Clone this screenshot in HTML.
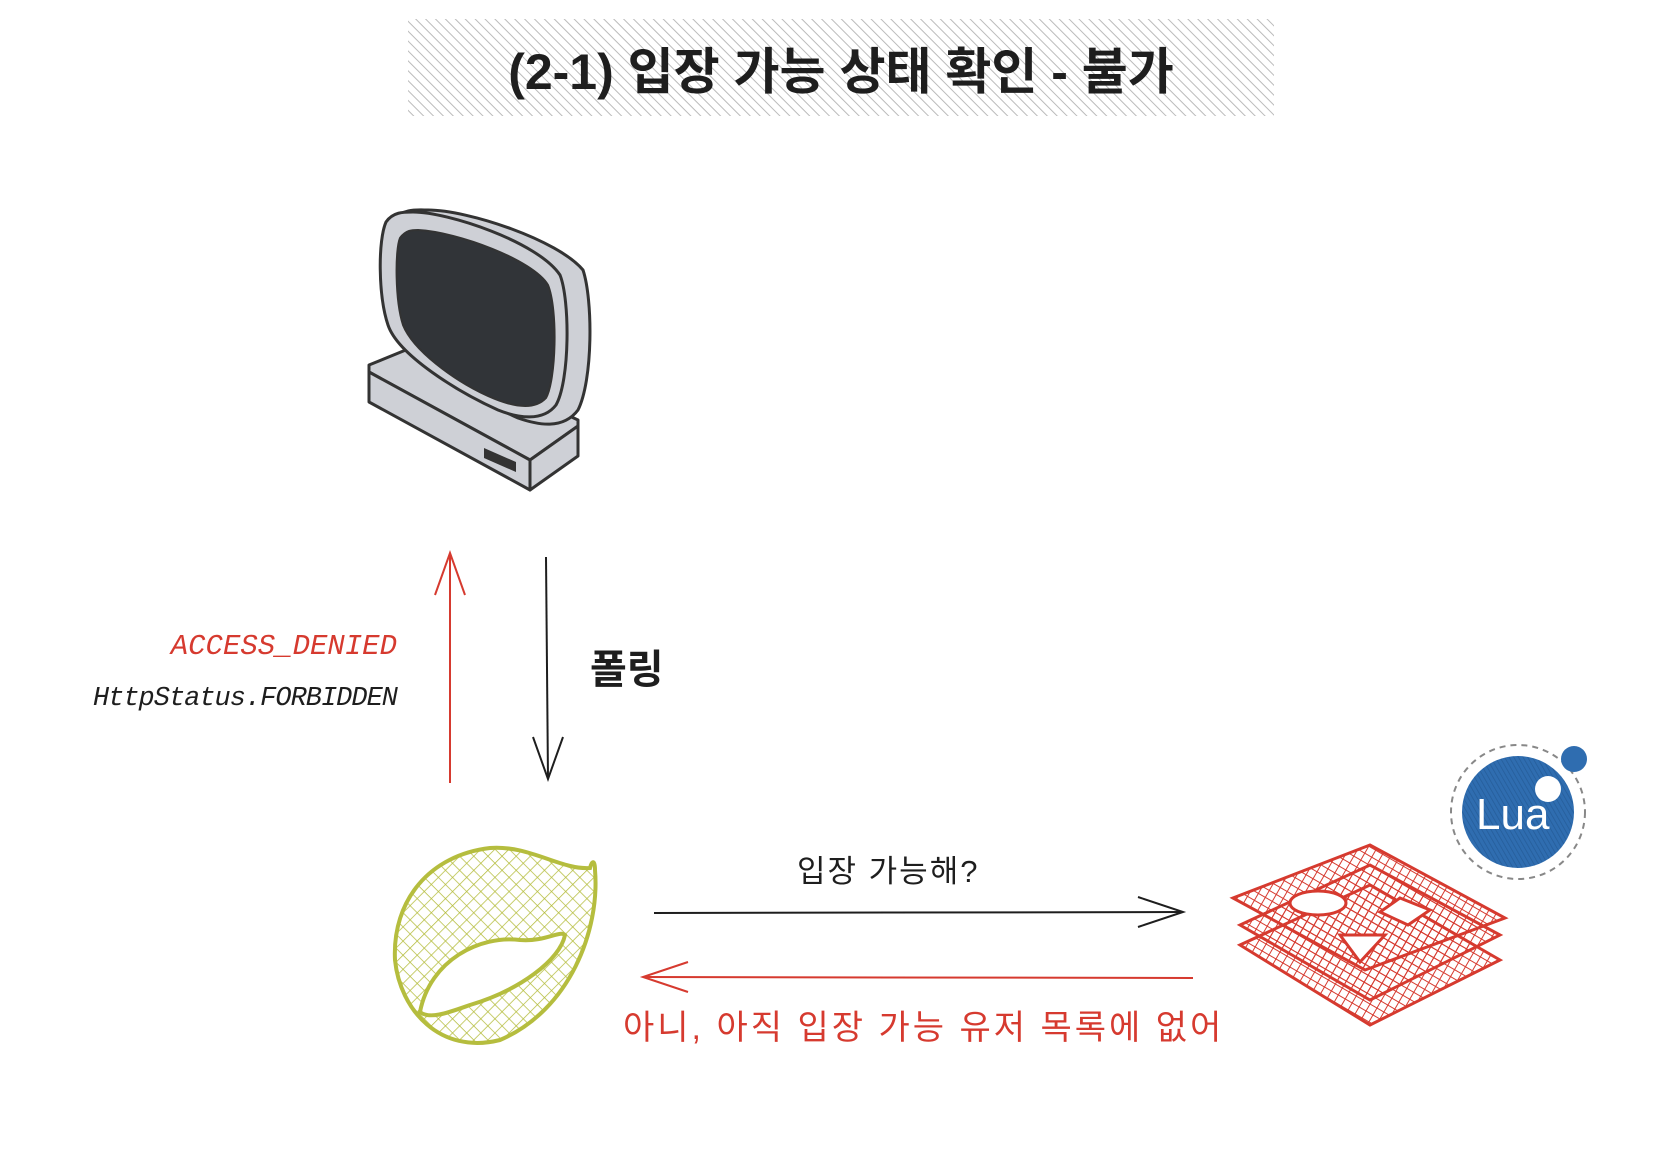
<!DOCTYPE html>
<html><head><meta charset="utf-8"><style>
html,body{margin:0;padding:0;background:#fff;}
body{width:1672px;height:1162px;position:relative;overflow:hidden;font-family:"Liberation Sans","Noto Sans CJK KR",sans-serif;}
.t{position:absolute;white-space:nowrap;}
</style></head><body>
<svg width="1672" height="1162" style="position:absolute;left:0;top:0">
<defs>
<pattern id="h" width="7" height="7" patternUnits="userSpaceOnUse" patternTransform="rotate(-45)">
<rect width="7" height="7" fill="#fff"/><line x1="0" y1="0" x2="0" y2="7" stroke="#bbb" stroke-width="2"/></pattern>
<pattern id="g" width="10" height="10" patternUnits="userSpaceOnUse" patternTransform="rotate(45)">
<line x1="0" y1="0" x2="0" y2="10" stroke="#b5bd3e" stroke-width="1.5"/><line x1="0" y1="0" x2="10" y2="0" stroke="#b5bd3e" stroke-width="1.5"/></pattern>
<pattern id="r" width="8" height="8" patternUnits="userSpaceOnUse" patternTransform="rotate(30)">
<line x1="0" y1="0" x2="0" y2="8" stroke="#d63a2f" stroke-width="2"/><line x1="0" y1="0" x2="8" y2="0" stroke="#d63a2f" stroke-width="2"/></pattern>
<pattern id="b" width="4" height="4" patternUnits="userSpaceOnUse" patternTransform="rotate(-30)">
<rect width="4" height="4" fill="#2f6db0"/><line x1="0" y1="0" x2="0" y2="4" stroke="#255c99" stroke-width="1.5"/></pattern>
</defs>
<rect x="408" y="19" width="866" height="97" fill="url(#h)"/>
<!-- monitor -->
<polygon points="369,372 530,460 578,426 578,420 418,345 369,365" fill="#ced0d6" stroke="#333" stroke-width="3" stroke-linejoin="round"/>
<polygon points="369,372 530,460 530,490 369,402" fill="#ced0d6" stroke="#333" stroke-width="3" stroke-linejoin="round"/>
<polygon points="530,460 578,426 578,456 530,490" fill="#ced0d6" stroke="#333" stroke-width="3" stroke-linejoin="round"/>
<polygon points="484,448 516,462 516,472 484,458" fill="#333"/>
<path d="M428,210 C468,210 558,240 583,270 C593,300 593,380 578,410 C563,430 538,425 518,418 C478,400 418,360 398,330 C383,300 383,240 393,220 C403,208 418,210 428,210Z" fill="#ced0d6" stroke="#333" stroke-width="3"/>
<path d="M413,212 C448,212 538,242 560,275 C570,300 570,380 556,405 C543,422 518,418 498,410 C458,392 398,355 388,325 C378,295 378,240 386,222 C393,212 403,212 413,212Z" fill="#ced0d6" stroke="#333" stroke-width="3"/>
<path d="M418,230 C458,232 533,260 548,285 C558,310 556,380 546,398 C533,412 508,405 488,396 C453,380 413,350 403,325 C395,300 395,250 400,238 C406,230 412,230 418,230Z" fill="#313438" stroke="#333" stroke-width="2"/>
<!-- arrows -->
<line x1="450" y1="553" x2="450" y2="783" stroke="#d63a2f" stroke-width="2"/>
<polyline points="435,595 450,553 465,595" fill="none" stroke="#d63a2f" stroke-width="2"/>
<line x1="546" y1="557" x2="548" y2="779" stroke="#1e1e1e" stroke-width="2"/>
<polyline points="533,737 548,779 563,737" fill="none" stroke="#1e1e1e" stroke-width="2"/>
<line x1="654" y1="913" x2="1183" y2="912" stroke="#1e1e1e" stroke-width="2"/>
<polyline points="1138,897 1183,912 1138,927" fill="none" stroke="#1e1e1e" stroke-width="2"/>
<line x1="643" y1="977" x2="1193" y2="978" stroke="#d63a2f" stroke-width="2"/>
<polyline points="688,962 643,977 688,992" fill="none" stroke="#d63a2f" stroke-width="2"/>
<!-- spring -->
<path d="M595,870 C600,930 570,1010 500,1040 C440,1055 400,1010 395,960 C392,900 430,855 490,848 C530,845 560,870 590,868 C592,860 595,860 595,870Z" fill="url(#g)" stroke="#b5bd3e" stroke-width="4"/>
<path d="M420,1012 C430,960 480,935 520,940 C545,942 560,930 565,935 C560,960 520,990 470,1005 C450,1012 430,1020 420,1012Z" fill="#fff" stroke="#b5bd3e" stroke-width="4"/>
<!-- redis -->
<g stroke="#d63a2f" stroke-width="3" fill="url(#r)">
<polygon points="1240,945 1370,1025 1500,960 1370,885"/>
<polygon points="1240,925 1370,1000 1500,935 1370,865"/>
<polygon points="1233,898 1365,970 1505,918 1370,845"/>
</g>
<ellipse cx="1318" cy="903" rx="28" ry="12" fill="#fff" stroke="#d63a2f" stroke-width="3"/>
<polygon points="1400,898 1430,910 1408,925 1380,912" fill="#fff" stroke="#d63a2f" stroke-width="3"/>
<polygon points="1340,935 1385,935 1360,962" fill="#fff" stroke="#d63a2f" stroke-width="3"/>
<!-- lua -->
<circle cx="1518" cy="812" r="67" fill="none" stroke="#888" stroke-width="2" stroke-dasharray="6,5"/>
<circle cx="1518" cy="812" r="56" fill="url(#b)"/>
<circle cx="1548" cy="789" r="13" fill="#fff"/>
<circle cx="1574" cy="759" r="13" fill="#2f6db0"/>
</svg>
<div class="t" style="left:408px;width:866px;top:40px;text-align:center;font-size:50px;font-weight:bold;color:#1e1e1e;line-height:64px">(2-1) 입장 가능 상태 확인 - 불가</div>
<div class="t" style="left:590px;top:637px;font-size:40px;font-weight:bold;color:#1e1e1e">폴링</div>
<div class="t" style="right:1275px;top:630px;font-size:29px;color:#d63a2f;font-style:italic;font-family:'Liberation Mono',monospace">ACCESS_DENIED</div>
<div class="t" style="right:1275px;top:684px;font-size:27px;color:#1e1e1e;font-style:italic;font-family:'Liberation Mono',monospace;letter-spacing:-1px">HttpStatus.FORBIDDEN</div>
<div class="t" style="left:797px;top:846px;font-size:31px;color:#1e1e1e;letter-spacing:2px">입장 가능해?</div>
<div class="t" style="left:623px;top:1000px;font-size:34px;color:#d63a2f;letter-spacing:3px">아니, 아직 입장 가능 유저 목록에 없어</div>
<div class="t" style="left:1476px;top:790px;font-size:44px;color:#fff">Lua</div>
</body></html>
